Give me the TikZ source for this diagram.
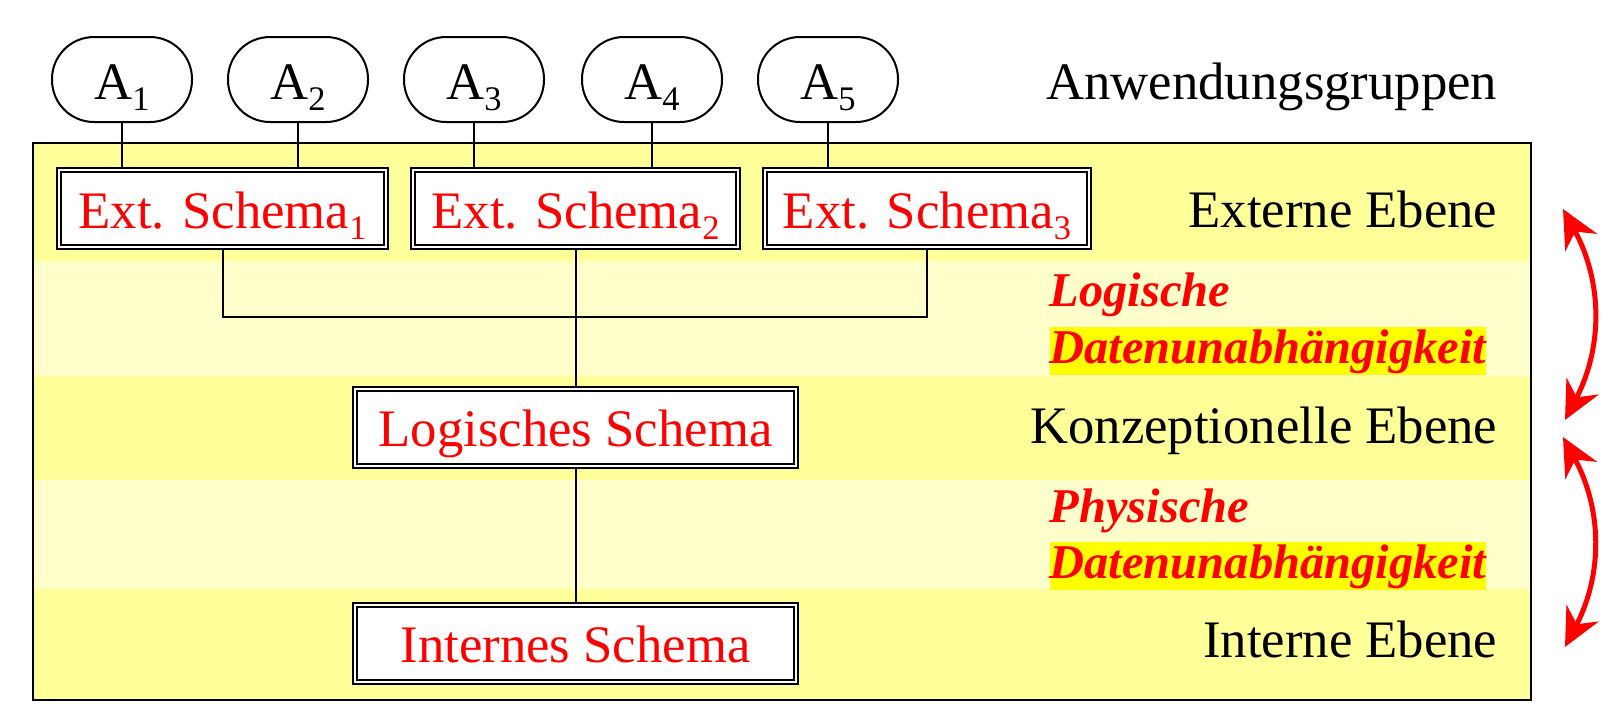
\documentclass[tikz,border=0pt]{standalone}
\usepackage{fontspec}
\setmainfont{Liberation Serif}
\usetikzlibrary{arrows.meta,positioning}
\definecolor{BandDark}{HTML}{FFFF99}
\definecolor{BandLight}{HTML}{FFFFCC}
\definecolor{MarkYellow}{HTML}{FFFF00}
\definecolor{SchemaRed}{HTML}{FF0000}
\newcommand{\idx}[1]{\raisebox{-3.4pt}{\fontsize{9.8pt}{11pt}\selectfont #1}}

\begin{document}
\begin{tikzpicture}[x=0.1mm, y=-0.1mm,
  font=\fontsize{15pt}{18pt}\selectfont,
  app/.style={draw, line width=0.2mm, fill=white, rounded corners=4.2mm, minimum width=14mm, minimum height=8.5mm, inner sep=0pt, text height=4.4mm, text depth=0.5mm},
  schema/.style={draw, line width=0.2mm, double=white, double distance=0.2mm, fill=white, text=SchemaRed, minimum height=7.7mm, inner sep=0pt, text height=4.4mm, text depth=0.5mm},
  level/.style={anchor=base east, inner sep=0pt},
  indep/.style={anchor=base west, inner sep=0pt, text=SchemaRed, font=\fontsize{13.8pt}{16pt}\selectfont\bfseries\itshape},
  hilite/.style={fill=MarkYellow, inner ysep=0.6pt},
  link/.style={line width=0.2mm},
  arr/.style={{Stealth[length=3.8mm,width=3.6mm]}-{Stealth[length=3.8mm,width=3.6mm]}, line width=0.5mm, SchemaRed}
]
\useasboundingbox (0,0) rectangle (1620,720);
\foreach \t/\b/\c in {143/261/BandDark, 261/376/BandLight, 376/480/BandDark, 480/589/BandLight, 589/700/BandDark}
  \fill[\c] (33,\t) rectangle (1531,\b);
\draw[line width=0.25mm] (33,143) rectangle (1531,700);

\foreach \i/\x in {1/122, 2/298, 3/474, 4/652, 5/828}
  \node[app] (A\i) at (\x,79.5) {A\idx{\i}};

\node[schema, minimum width=32.7mm] (E1) at (222.5,208.5) {Ext. Schema\idx{1}};
\node[schema, minimum width=32.5mm] (E2) at (575.5,208.5) {Ext. Schema\idx{2}};
\node[schema, minimum width=32.4mm] (E3) at (927,208.5) {Ext. Schema\idx{3}};
\node[schema, minimum width=44.1mm] (LS) at (575.5,427) {Logisches Schema};
\node[schema, minimum width=44.1mm] (IS) at (575.5,643) {Internes Schema};

\node[level] (anw) at (1498,99) {Anwendungsgruppen};
\node[level] (ext) at (1498,227) {Externe Ebene};
\node[level] (konz) at (1498,443) {Konzeptionelle Ebene};
\node[level] (intn) at (1498,657) {Interne Ebene};

\node[indep] (logi) at (1049,306) {Logische};
\node[indep, hilite] (logd) at (1049,363) {Datenunabhängigkeit};
\node[indep] (phys) at (1049,522) {Physische};
\node[indep, hilite] (physd) at (1049,578) {Datenunabhängigkeit};

\foreach \a/\e in {1/1, 2/1, 3/2, 4/2, 5/3}
  \draw[link] (A\a) -- (A\a |- E\e.north);
\coordinate (bar) at (0,317);
\draw[link] (E1) -- (E1 |- bar) -- (E3 |- bar) -- (E3);
\draw[link] (E2) -- (LS);
\draw[link] (LS) -- (IS);

\coordinate (t1) at (1563,209);
\coordinate (b1) at (1565,420);
\coordinate (t2) at (1563,437);
\coordinate (b2) at (1565,647);
\draw[arr] (t1) to[bend left=28] (b1);
\draw[arr] (t2) to[bend left=28] (b2);
\end{tikzpicture}
\end{document}
